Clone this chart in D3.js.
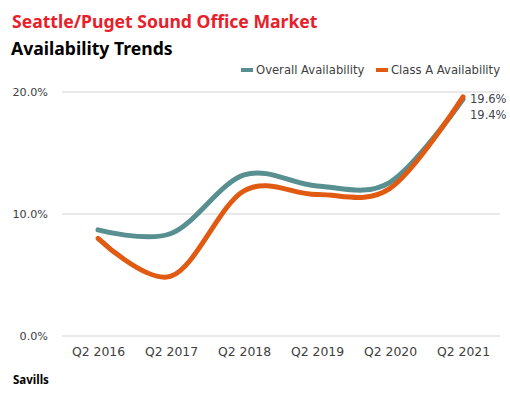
<!DOCTYPE html>
<html>
<head>
<meta charset="utf-8">
<script src="https://cdn.jsdelivr.net/npm/d3@7"></script>
<style>
  body { margin: 0; background: #fff; }
  text { font-family: "DejaVu Sans", sans-serif; }
  text.heading { font-family: "Noto Sans", sans-serif; font-weight: bold; }
</style>
</head>
<body>
<svg id="chart" width="510" height="393"></svg>
<script>
// Data
const quarters = ['Q2 2016', 'Q2 2017', 'Q2 2018', 'Q2 2019', 'Q2 2020', 'Q2 2021'];
const overall = [8.7, 8.4, 13.2, 12.3, 12.6, 19.4];
const classA = [8.0, 4.9, 11.9, 11.6, 12.1, 19.6];
const yTicks = [0, 10, 20];

const svg = d3.select('#chart');

const teal = '#588f90';
const orange = '#e05a12';
const grey = '#404040';

// Scales
const x = d3.scalePoint().domain(quarters).range([98, 463]);
const y = d3.scaleLinear().domain([0, 20]).range([336, 92]);

// Titles
svg.append('text')
    .attr('class', 'heading')
    .attr('x', 12).attr('y', 28)
    .attr('font-size', 17.6)
    .attr('fill', '#e8202a')
    .text('Seattle/Puget Sound Office Market');

svg.append('text')
    .attr('class', 'heading')
    .attr('x', 11).attr('y', 55)
    .attr('font-size', 17.6)
    .attr('fill', '#000')
    .text('Availability Trends');

// Gridlines and y labels
const grid = svg.append('g');
grid.selectAll('line')
    .data(yTicks)
    .join('line')
    .attr('x1', 62).attr('x2', 500)
    .attr('y1', d => y(d)).attr('y2', d => y(d))
    .attr('stroke', '#e2e2e2')
    .attr('stroke-width', 1.5);

grid.selectAll('text')
    .data(yTicks)
    .join('text')
    .attr('x', 48)
    .attr('y', d => y(d))
    .attr('dy', '0.35em')
    .attr('text-anchor', 'end')
    .attr('font-size', 11.2)
    .attr('fill', grey)
    .text(d => d3.format('.1f')(d) + '%');

// X axis labels
const xAxis = d3.axisBottom(x).tickSize(0).tickPadding(0);
const xg = svg.append('g')
    .attr('transform', 'translate(0,347)')
    .call(xAxis);
xg.select('.domain').remove();
xg.selectAll('text')
    .attr('dy', '0.75em')
    .attr('font-size', 12.4)
    .attr('font-family', null)
    .attr('fill', grey);

// Lines
const line = d3.line()
    .x((d, i) => x(quarters[i]))
    .y(d => y(d))
    .curve(d3.curveCardinal.tension(0));

svg.append('path')
    .attr('d', line(overall))
    .attr('fill', 'none')
    .attr('stroke', teal)
    .attr('stroke-width', 5)
    .attr('stroke-linecap', 'round');

svg.append('path')
    .attr('d', line(classA))
    .attr('fill', 'none')
    .attr('stroke', orange)
    .attr('stroke-width', 5)
    .attr('stroke-linecap', 'round');

// End labels
const last = quarters.length - 1;
svg.append('text')
    .attr('x', x(quarters[last]) + 7)
    .attr('y', y(classA[last]) + 2)
    .attr('dy', '0.35em')
    .attr('font-size', 11.5)
    .attr('fill', '#3f4550')
    .text(classA[last].toFixed(1) + '%');
svg.append('text')
    .attr('x', x(quarters[last]) + 7)
    .attr('y', y(classA[last]) + 18)
    .attr('dy', '0.35em')
    .attr('font-size', 11.5)
    .attr('fill', '#3f4550')
    .text(overall[last].toFixed(1) + '%');

// Legend
const legend = [
    { name: 'Overall Availability', color: teal, x: 241 },
    { name: 'Class A Availability', color: orange, x: 376 }
];
const lg = svg.selectAll('.legend')
    .data(legend)
    .join('g')
    .attr('class', 'legend')
    .attr('transform', d => `translate(${d.x},70)`);
lg.append('line')
    .attr('x1', 0).attr('x2', 12)
    .attr('stroke', d => d.color)
    .attr('stroke-width', 4);
lg.append('text')
    .attr('x', 15)
    .attr('dy', '0.35em')
    .attr('font-size', 11.6)
    .attr('fill', grey)
    .text(d => d.name);

// Source
svg.append('text')
    .attr('class', 'heading')
    .attr('x', 13).attr('y', 384)
    .attr('font-size', 11.5)
    .attr('fill', '#000')
    .text('Savills');
</script>
</body>
</html>
